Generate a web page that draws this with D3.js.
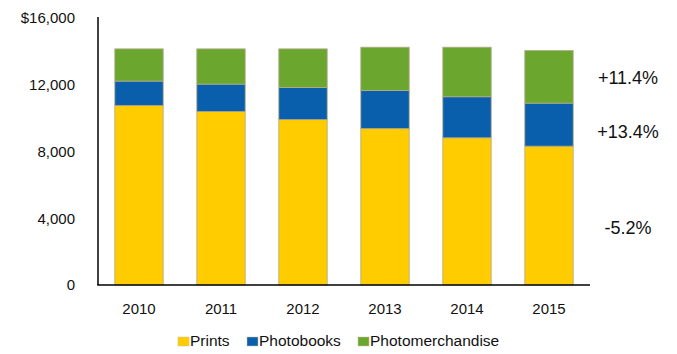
<!DOCTYPE html>
<html>
<head>
<meta charset="utf-8">
<script src="https://cdn.jsdelivr.net/npm/d3@7"></script>
<style>
  html, body { margin: 0; padding: 0; background: #fff; }
  svg { display: block; }
  text { font-family: "Liberation Sans", Arial, sans-serif; fill: #111; }
</style>
</head>
<body>
<svg id="chart" width="677" height="354"></svg>
<script>
const years = ["2010", "2011", "2012", "2013", "2014", "2015"];
const prints = [10750, 10390, 9910, 9370, 8820, 8320];
const photobooks = [1470, 1650, 1930, 2290, 2460, 2580];
const photomerchandise = [1930, 2110, 2310, 2590, 2970, 3150];
const seriesNames = ["Prints", "Photobooks", "Photomerchandise"];
const seriesColors = ["#FFCC00", "#0A5FAD", "#6BA72F"];
const yTicks = [0, 4000, 8000, 12000, 16000];
const growthLabels = ["+11.4%", "+13.4%", "-5.2%"];
const growthValues = [12400, 9170, 3420]; // vertical anchor (data units) for each label

(function () {
const svg = d3.select("#chart");
const mLeft = 98, mRight = 590, mTop = 18, mBottom = 285;

const x = d3.scaleBand().domain(years).range([mLeft, mRight]).paddingInner(0.41).paddingOuter(0.205);
const y = d3.scaleLinear().domain([0, 16000]).range([mBottom, mTop]);

const table = years.map((yr, i) => ({
  year: yr, Prints: prints[i], Photobooks: photobooks[i], Photomerchandise: photomerchandise[i]
}));
const stacked = d3.stack().keys(seriesNames)(table);

svg.append("g").selectAll("g")
  .data(stacked)
  .join("g")
  .attr("fill", (d, i) => seriesColors[i])
  .selectAll("rect")
  .data(d => d)
  .join("rect")
  .attr("x", d => x(d.data.year))
  .attr("width", x.bandwidth())
  .attr("y", d => y(d[1]))
  .attr("height", d => y(d[0]) - y(d[1]))
  .attr("stroke", "#b3aa8a")
  .attr("stroke-width", 0.8);

// Y axis
const yAxis = d3.axisLeft(y).tickValues(yTicks).tickSize(0).tickPadding(23)
  .tickFormat(d => d === 16000 ? "$" + d3.format(",")(d) : d3.format(",")(d));
const gy = svg.append("g").attr("transform", `translate(${mLeft},0)`).call(yAxis);
gy.select(".domain").attr("stroke", "#000").attr("stroke-width", 1.5).attr("d", `M0,${mTop - 1}V${mBottom}`);
gy.selectAll("text").attr("font-size", 15).attr("font-family", "Liberation Sans, Arial, sans-serif").attr("fill", "#111");

// X axis
const xAxis = d3.axisBottom(x).tickSize(0).tickPadding(18);
const gx = svg.append("g").attr("transform", `translate(0,${mBottom})`).call(xAxis);
gx.select(".domain").attr("stroke", "#000").attr("stroke-width", 1.5).attr("d", `M${mLeft - 0.75},0H${mRight}`);
gx.selectAll("text").attr("font-size", 15).attr("font-family", "Liberation Sans, Arial, sans-serif").attr("fill", "#111");

// Growth annotations
svg.append("g").selectAll("text")
  .data(growthLabels)
  .join("text")
  .attr("x", 628)
  .attr("y", (d, i) => y(growthValues[i]))
  .attr("text-anchor", "middle")
  .attr("dominant-baseline", "central")
  .attr("font-size", 18)
  .text(d => d);

// Legend
const legendX = [178, 247, 358];
const lg = svg.append("g").selectAll("g")
  .data(seriesNames)
  .join("g")
  .attr("transform", (d, i) => `translate(${legendX[i]},337)`);
lg.append("rect").attr("width", 11).attr("height", 9)
  .attr("fill", (d, i) => seriesColors[i]).attr("stroke", "#c8c0a0").attr("stroke-width", 0.5);
lg.append("text").attr("x", 12).attr("y", 8.5).attr("font-size", 15.5).text(d => d);
})();
</script>
</body>
</html>
